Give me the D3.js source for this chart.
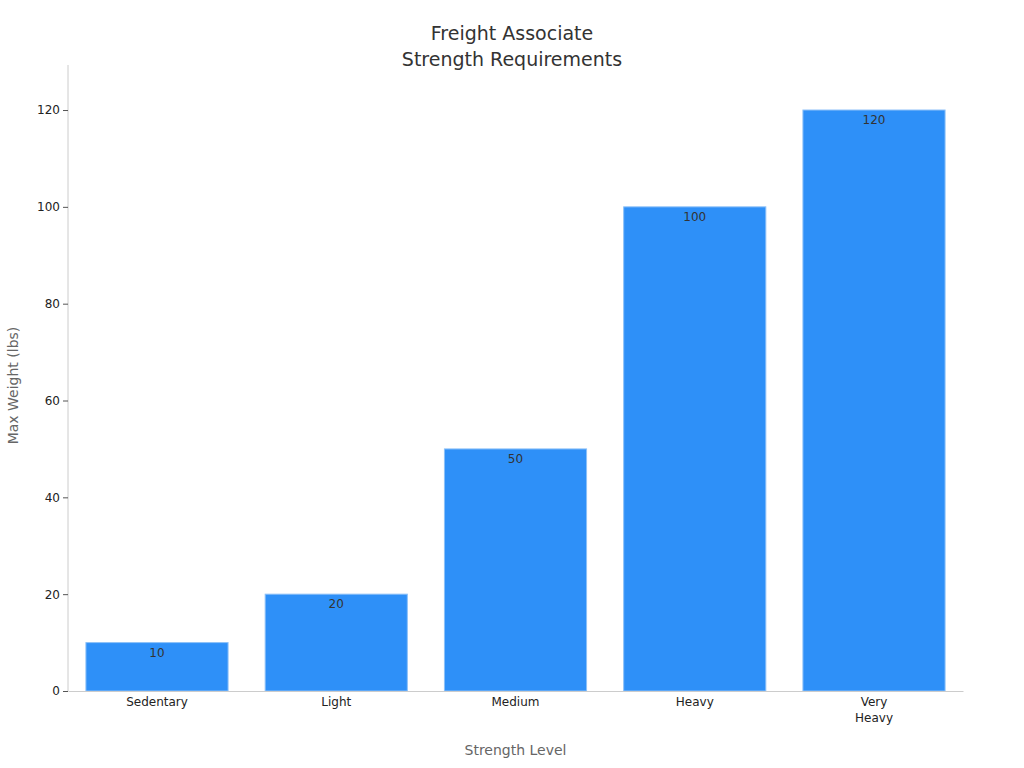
<!DOCTYPE html>
<html><head><meta charset="utf-8">
<script src="https://cdn.jsdelivr.net/npm/d3@7"></script>
<style>body{margin:0;background:#fff;font-family:"DejaVu Sans",sans-serif;}</style>
</head><body><svg id="c" width="1024" height="768"></svg>
<script>
const categories=["Sedentary","Light","Medium","Heavy","Very Heavy"];
const values=[10,20,50,100,120];
const yTicks=[0,20,40,60,80,100,120];
const svg=d3.select("#c");
const L=68,R=963,T=80,B=691;
const x=d3.scaleBand().domain(categories).range([L,R]).paddingInner(0.207).paddingOuter(0.1);
const y=d3.scaleLinear().domain([0,126.2]).range([B,T]);
svg.append("text").attr("x",512).attr("y",40).attr("text-anchor","middle").attr("font-size",19).attr("fill","#333").text("Freight Associate");
svg.append("text").attr("x",512).attr("y",66).attr("text-anchor","middle").attr("font-size",19).attr("fill","#333").text("Strength Requirements");
svg.selectAll("rect.b").data(values).join("rect").attr("class","b")
 .attr("x",(d,i)=>x(categories[i])).attr("width",x.bandwidth())
 .attr("y",d=>y(d)).attr("height",d=>B-y(d))
 .attr("fill","#2e90f8").attr("stroke","#8cc0f8").attr("stroke-width",1);
svg.selectAll("text.v").data(values).join("text").attr("class","v")
 .attr("x",(d,i)=>x(categories[i])+x.bandwidth()/2).attr("y",d=>y(d)+14)
 .attr("text-anchor","middle").attr("font-size",12).attr("fill","#333").text(d=>d);
const ya=svg.append("g").attr("transform",`translate(${L},0)`).call(d3.axisLeft(y).tickValues(yTicks).tickSize(5));
ya.select(".domain").attr("stroke","#ccc").attr("d",`M0,${T-15}V${B}`);
ya.selectAll(".tick line").attr("stroke","#555");
ya.selectAll(".tick text").attr("font-size",12).attr("fill","#222").attr("font-family","DejaVu Sans");
const xa=svg.append("g").attr("transform",`translate(0,${B})`).call(d3.axisBottom(x).tickSize(0));
xa.select(".domain").attr("stroke","#ccc");
xa.selectAll(".tick text").attr("font-size",12).attr("fill","#222").attr("font-family","DejaVu Sans").each(function(d){
 const t=d3.select(this);const w=d.split(" ");t.text(null);
 w.forEach((s,i)=>t.append("tspan").attr("x",0).attr("dy",i?"1.35em":"1.1em").text(s));
}).attr("y",2);
svg.append("text").attr("x",(L+R)/2).attr("y",755).attr("text-anchor","middle").attr("font-size",14).attr("fill","#666").text("Strength Level");
svg.append("text").attr("transform",`translate(18,${(T+B)/2}) rotate(-90)`).attr("text-anchor","middle").attr("font-size",14).attr("fill","#666").text("Max Weight (lbs)");
</script></body></html>
